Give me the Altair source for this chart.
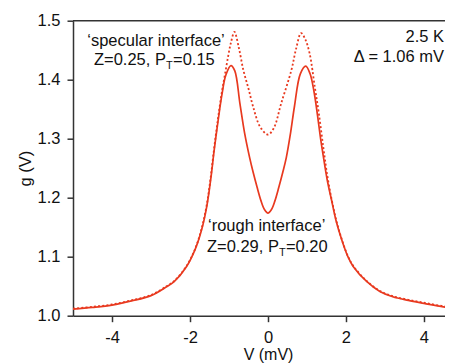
import altair as alt
import pandas as pd

# Rough interface (solid curve)
v_rough = [-5.0, -4.5, -4.0, -3.5, -3.0, -2.6, -2.4, -2.1, -1.87, -1.70, -1.57, -1.47, -1.38, -1.28,
           -1.18, -1.08, -0.95, -0.85, -0.72, -0.60, -0.47, -0.38, -0.28, -0.18, -0.09, 0.0,
           0.09, 0.18, 0.28, 0.38, 0.47, 0.58, 0.68, 0.83, 0.97, 1.08, 1.18, 1.27, 1.35, 1.42,
           1.52, 1.63, 1.75, 1.89, 2.05, 2.19, 2.53, 2.87, 3.2, 3.6, 4.0, 4.5, 5.0]
g_rough = [1.011, 1.014, 1.018, 1.025, 1.034, 1.049, 1.058, 1.082, 1.112, 1.146, 1.185, 1.230, 1.280, 1.330,
           1.375, 1.408, 1.424, 1.415, 1.360, 1.310, 1.268, 1.243, 1.218, 1.195, 1.180, 1.174,
           1.180, 1.195, 1.218, 1.243, 1.268, 1.310, 1.355, 1.410, 1.423, 1.410, 1.380, 1.340, 1.300, 1.270,
           1.230, 1.196, 1.160, 1.129, 1.100, 1.083, 1.058, 1.041, 1.032, 1.026, 1.021, 1.015, 1.011]

# Specular interface (dotted curve)
v_spec = [-5.0, -4.5, -4.0, -3.5, -3.0, -2.6, -2.4, -2.1, -1.87, -1.70, -1.57, -1.47, -1.38, -1.28,
          -1.18, -1.10, -1.02, -0.95, -0.86, -0.75, -0.63, -0.50, -0.38, -0.20, 0.0,
          0.15, 0.34, 0.60, 0.72, 0.85, 0.96, 1.07, 1.20, 1.30, 1.42, 1.52, 1.63, 1.75, 1.89,
          2.05, 2.19, 2.53, 2.87, 3.2, 3.6, 4.0, 4.5, 5.0]
g_spec = [1.012, 1.015, 1.019, 1.026, 1.035, 1.050, 1.059, 1.083, 1.113, 1.148, 1.188, 1.234, 1.284, 1.335,
          1.380, 1.410, 1.440, 1.463, 1.481, 1.455, 1.416, 1.385, 1.354, 1.320, 1.307,
          1.318, 1.360, 1.416, 1.452, 1.479, 1.468, 1.444, 1.388, 1.345, 1.285, 1.238, 1.198, 1.162, 1.130,
          1.101, 1.084, 1.059, 1.042, 1.033, 1.027, 1.022, 1.016, 1.012]

x_ticks = [-4, -2, 0, 2, 4]
y_ticks = [1.0, 1.1, 1.2, 1.3, 1.4, 1.5]

rough = pd.DataFrame({"V": v_rough, "g": g_rough})
spec = pd.DataFrame({"V": v_spec, "g": g_spec})

RED = "#e8391f"
FONT = "Liberation Sans"
FS = 16.5
W, H = 372, 295

xs = alt.Scale(domain=[-5, 4.54], nice=False, zero=False)
ys = alt.Scale(domain=[1.0, 1.5], nice=False, zero=False)

xaxis = alt.Axis(values=x_ticks, title="V (mV)", grid=False, tickSize=6, labelPadding=8,
                 labelExpr="'' + datum.value", labelFlush=False,
                 titleX=195, titleY=44, titleAlign="center", titleBaseline="alphabetic",
                 titleFontSize=16)
yaxis = alt.Axis(values=y_ticks, title="g (V)", grid=False, tickSize=6, labelPadding=7,
                 titlePadding=4, format=".1f", labelFlush=False)

solid = alt.Chart(rough).mark_line(color=RED, strokeWidth=1.7, interpolate="catmull-rom", clip=True).encode(
    x=alt.X("V:Q", scale=xs, axis=xaxis),
    y=alt.Y("g:Q", scale=ys, axis=yaxis),
)
dotted = alt.Chart(spec).mark_line(color=RED, strokeWidth=1.8, strokeDash=[2, 2.2],
                                   interpolate="catmull-rom", clip=True).encode(
    x=alt.X("V:Q", scale=xs),
    y=alt.Y("g:Q", scale=ys),
)

top_rule = alt.Chart(pd.DataFrame({"a": [0]})).mark_rule(color="#333", strokeWidth=1.5).encode(
    x=alt.value(0), x2=alt.value(W), y=alt.value(0)
)


def txt(s, x, y, size=FS, align="left"):
    return alt.Chart(pd.DataFrame({"t": [s]})).mark_text(
        font=FONT, fontSize=size, align=align, baseline="alphabetic", color="#111"
    ).encode(text="t:N", x=alt.value(x), y=alt.value(y))


labels = [
    txt("\u2018specular interface\u2019", 83, 25.3, align="center"),
    txt("Z=0.25, P", 21, 44.3),
    txt("T", 93, 48.3, size=11),
    txt("=0.15", 100, 44.3),
    txt("2.5 K", 371, 21, align="right"),
    txt("\u0394 = 1.06 mV", 371, 41.6, align="right"),
    txt("\u2018rough interface\u2019", 135, 210.3),
    txt("Z=0.29, P", 134, 231.3),
    txt("T", 206, 235.3, size=11),
    txt("=0.20", 213, 231.3),
]

chart = alt.layer(dotted, solid, top_rule, *labels).properties(
    width=W, height=H,
    autosize=alt.AutoSizeParams(type="none"),
    padding={"left": 65, "top": 12.7, "right": 0, "bottom": 48},
    background="white",
).configure_view(stroke=None).configure_axis(
    domainColor="#333", domainWidth=1.5, tickColor="#333", tickWidth=1.5,
    labelFont=FONT, labelFontSize=FS, labelColor="#111",
    titleFont=FONT, titleFontSize=FS, titleFontWeight="normal", titleColor="#111",
)

chart.save("out.html", embed_options={"renderer": "svg", "actions": False})
